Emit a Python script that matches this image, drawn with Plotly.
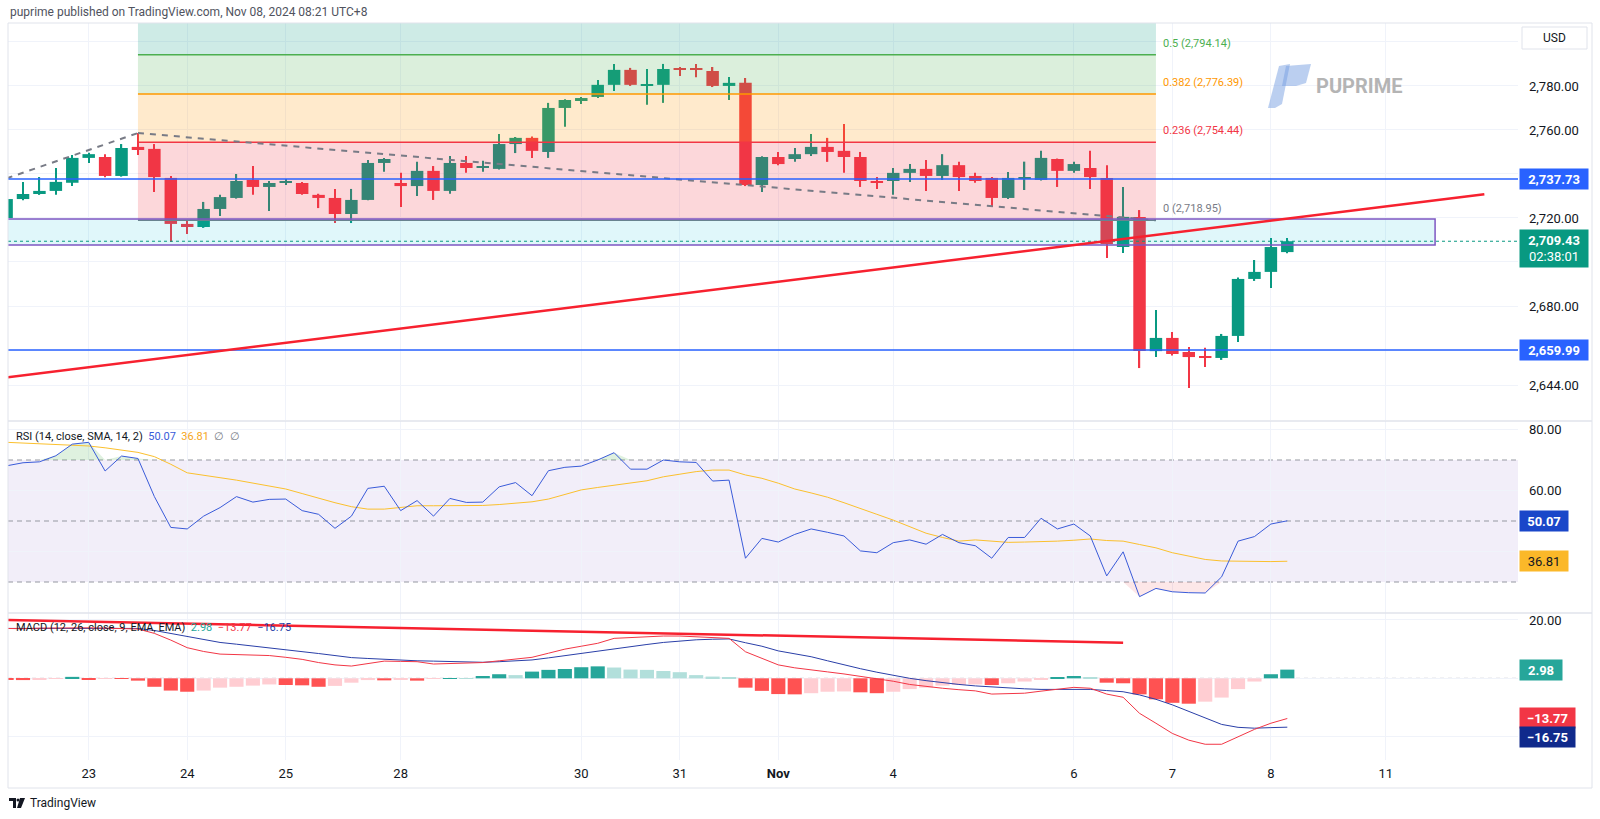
import plotly.graph_objects as go

# ---------------- data ----------------
bar_index = list(range(79))

opens = [2720.0, 2728.6, 2730.9, 2732.3, 2736.0, 2747.3, 2747.7, 2739.1, 2752.3, 2751.4,
         2738.2, 2717.3, 2715.9, 2724.1, 2729.1, 2737.3, 2734.1, 2736.2, 2735.9, 2730.5,
         2729.1, 2721.8, 2728.2, 2745.0, 2735.9, 2734.5, 2741.4, 2732.3, 2745.0, 2742.9,
         2742.3, 2753.6, 2756.4, 2750.0, 2770.0, 2773.6, 2775.0, 2780.5, 2787.3, 2780.4,
         2780.5, 2787.7, 2787.8, 2786.8, 2780.0, 2781.4, 2735.0, 2747.7, 2746.8, 2749.0,
         2752.3, 2750.5, 2747.7, 2736.8, 2736.8, 2740.5, 2742.3, 2739.1, 2744.0, 2739.1,
         2738.2, 2729.1, 2738.1, 2737.3, 2746.8, 2741.4, 2742.7, 2738.2, 2706.8, 2720.5,
         2659.5, 2665.5, 2659.1, 2657.1, 2656.4, 2666.4, 2692.3, 2695.5, 2704.5]
highs = [2729.0, 2736.4, 2738.6, 2742.7, 2748.6, 2749.6, 2749.0, 2753.6, 2758.6, 2753.6,
         2739.1, 2718.6, 2727.3, 2730.5, 2740.0, 2743.6, 2736.8, 2737.7, 2736.4, 2731.0,
         2733.2, 2733.2, 2746.4, 2747.3, 2740.5, 2745.5, 2743.6, 2748.2, 2748.2, 2746.0,
         2758.2, 2756.8, 2757.0, 2772.3, 2774.0, 2775.0, 2782.7, 2790.0, 2788.2, 2787.7,
         2790.0, 2788.6, 2790.0, 2788.6, 2784.1, 2783.6, 2748.0, 2750.0, 2751.8, 2758.2,
         2756.4, 2762.7, 2750.0, 2738.6, 2742.7, 2744.5, 2746.4, 2749.0, 2745.5, 2740.5,
         2738.6, 2740.9, 2745.6, 2750.5, 2747.0, 2745.5, 2750.5, 2744.0, 2734.1, 2723.6,
         2678.2, 2668.2, 2661.4, 2661.0, 2667.3, 2693.0, 2700.9, 2710.9, 2710.9]
lows = [2719.0, 2728.0, 2730.5, 2730.5, 2734.5, 2745.0, 2738.5, 2738.8, 2748.6, 2731.8,
        2709.1, 2712.7, 2715.5, 2720.9, 2728.8, 2730.5, 2723.2, 2735.0, 2730.5, 2724.5,
        2717.7, 2717.7, 2728.0, 2741.0, 2725.0, 2730.0, 2728.2, 2731.0, 2740.5, 2741.0,
        2742.0, 2749.5, 2747.3, 2747.3, 2761.4, 2771.8, 2774.5, 2777.7, 2780.0, 2771.4,
        2772.3, 2784.5, 2784.0, 2779.5, 2773.6, 2734.5, 2731.8, 2744.0, 2745.5, 2748.2,
        2745.5, 2740.5, 2734.1, 2733.2, 2730.5, 2736.4, 2732.3, 2737.3, 2732.3, 2736.0,
        2725.0, 2728.6, 2732.7, 2737.0, 2734.1, 2740.5, 2733.2, 2701.8, 2704.1, 2651.8,
        2656.8, 2657.5, 2642.7, 2652.3, 2655.5, 2663.6, 2691.4, 2688.2, 2704.0]
closes = [2728.6, 2730.9, 2732.3, 2736.4, 2747.3, 2749.0, 2739.1, 2751.8, 2750.9, 2738.6,
          2717.3, 2715.9, 2724.1, 2729.5, 2736.8, 2734.1, 2735.9, 2736.6, 2730.9, 2729.1,
          2721.8, 2728.2, 2745.0, 2746.8, 2734.5, 2741.4, 2732.3, 2745.0, 2742.7, 2743.3,
          2753.6, 2756.4, 2750.5, 2770.0, 2773.6, 2774.5, 2780.5, 2787.3, 2780.5, 2780.7,
          2787.7, 2787.3, 2787.4, 2780.0, 2781.4, 2735.0, 2747.7, 2744.5, 2749.0, 2752.3,
          2750.0, 2747.7, 2736.8, 2735.9, 2740.5, 2742.3, 2739.1, 2744.0, 2738.6, 2736.8,
          2729.1, 2738.2, 2738.4, 2747.3, 2741.4, 2744.5, 2738.6, 2708.2, 2720.5, 2659.5,
          2665.5, 2658.2, 2656.8, 2656.8, 2666.4, 2692.3, 2695.5, 2706.8, 2709.43]

rsi = [68.1, 69.1, 69.4, 71.4, 75.2, 75.8, 66.4, 71.3, 70.5, 58.0,
       47.9, 47.4, 51.6, 54.4, 58.0, 56.2, 57.1, 57.2, 53.4, 52.2,
       47.6, 51.6, 60.7, 61.4, 53.4, 56.7, 51.6, 57.4, 56.1, 56.2,
       61.2, 62.6, 58.3, 66.5, 67.6, 68.0, 70.0, 72.4, 67.0, 67.0,
       70.0, 69.4, 69.2, 63.1, 63.4, 37.8, 44.3, 43.1, 45.6, 47.4,
       46.3, 45.1, 40.2, 39.6, 42.9, 43.8, 42.4, 45.6, 42.9, 41.9,
       37.8, 44.6, 44.6, 50.9, 47.4, 49.0, 45.1, 32.0, 39.9, 25.2,
       27.9, 26.8, 26.5, 26.4, 31.7, 43.4, 44.9, 49.0, 50.07]
rsi_sma = [75.8, 75.6, 75.4, 75.1, 74.9, 74.6, 74.0, 73.3, 72.5, 71.1,
           68.6, 65.8, 64.9, 64.2, 63.4, 62.4, 61.5, 60.5, 59.0, 57.4,
           56.0, 54.7, 53.9, 53.9, 54.4, 55.0, 55.0, 55.0, 55.1, 55.1,
           55.4, 55.8, 56.3, 57.2, 58.8, 60.2, 61.0, 61.8, 62.5, 63.2,
           64.5, 65.4, 66.2, 66.7, 66.7, 65.1, 64.0, 62.4, 60.5, 59.2,
           57.8, 56.0, 54.2, 52.2, 50.3, 48.2, 46.0, 44.6, 43.4, 43.8,
           43.4, 43.0, 43.1, 43.2, 43.4, 43.7, 44.1, 43.6, 43.4, 42.3,
           41.2, 39.6, 38.5, 37.4, 36.9, 36.8, 36.8, 36.7, 36.81]

macd_line = [17.1, 17.0, 17.2, 17.3, 17.4, 17.3, 17.2, 17.0, 16.9, 15.4,
             13.1, 10.5, 9.2, 8.3, 8.1, 8.0, 7.8, 7.2, 6.5, 5.4,
             4.6, 4.2, 5.0, 5.9, 5.8, 5.7, 4.9, 5.0, 5.2, 5.4,
             6.0, 6.6, 7.2, 8.6, 10.0, 11.0, 12.0, 13.7, 14.0, 14.3,
             14.5, 14.5, 14.3, 14.0, 13.7, 9.1, 6.8, 4.6, 3.6, 2.8,
             2.2, 1.5, 0.7, 0.0, -1.0, -2.1, -2.8, -3.4, -3.9, -4.3,
             -5.4, -5.3, -5.1, -4.4, -3.8, -3.1, -3.4, -5.4, -6.5, -12.0,
             -15.4, -18.9, -21.2, -22.6, -22.6, -20.0, -17.5, -15.4, -13.77]
signal_line = [17.1, 17.1, 17.1, 17.1, 17.1, 17.1, 17.1, 17.1, 17.1, 16.4,
               15.4, 14.2, 13.2, 12.3, 11.7, 11.1, 10.5, 9.9, 9.2, 8.5,
               7.8, 7.1, 6.8, 6.5, 6.2, 6.0, 5.9, 5.7, 5.6, 5.5,
               5.7, 6.0, 6.3, 7.0, 7.8, 8.6, 9.4, 10.2, 10.9, 11.6,
               12.3, 12.8, 13.2, 13.4, 13.5, 12.2, 11.0, 9.4, 8.3, 7.4,
               6.0, 4.6, 3.3, 2.1, 1.0, 0.0, -0.8, -1.5, -2.1, -2.6,
               -3.0, -3.4, -3.6, -3.8, -3.8, -3.7, -3.8, -4.2, -4.6, -5.7,
               -7.2, -9.1, -11.4, -13.7, -15.8, -16.8, -17.1, -16.9, -16.75]
histogram = [-0.3, -0.6, -0.5, -0.2, 0.5, -0.3, -0.1, -0.2, -0.8, -2.9,
             -4.2, -4.6, -4.2, -3.2, -2.9, -2.5, -2.1, -2.3, -2.4, -2.9,
             -2.6, -1.5, -0.6, -0.7, -0.3, -0.8, -0.2, 0.1, 0.05, 0.8,
             1.4, 1.1, 2.3, 2.9, 3.2, 3.8, 4.1, 3.7, 3.0, 2.9,
             2.5, 2.1, 1.1, 0.6, 0.3, -3.2, -4.3, -5.4, -5.5, -5.1,
             -4.6, -4.5, -4.8, -5.1, -4.6, -3.7, -3.2, -2.5, -2.3, -2.1,
             -2.3, -1.7, -1.1, -0.3, 0.3, 0.8, 0.3, -1.5, -1.7, -5.5,
             -7.2, -8.4, -8.7, -8.0, -6.6, -3.7, -1.1, 1.4, 2.98]

tick_pos = [5, 11, 17, 24, 35, 41, 47, 54, 65, 71, 77, 84]
tick_text = ["23", "24", "25", "28", "30", "31", "<b>Nov</b>", "4", "6", "7", "8", "11"]
price_ticks = [2644, 2660, 2680, 2700, 2720, 2740, 2760, 2780, 2800]
price_ticks_hidden = [2660, 2700, 2740, 2800]   # covered by price tags in the reference
rsi_ticks = [40, 60, 80]
rsi_ticks_hidden = [40]
macd_ticks = [-20, 0, 20]
macd_ticks_hidden = [-20, 0]

fib_ratios = ["0", "0.236", "0.382", "0.5", "0.618"]
fib_prices = [2718.95, 2754.44, 2776.39, 2794.14, 2811.88]
fib_colors = ["#787b86", "#f23645", "#ff9800", "#4caf50", "#089981"]
fib_start, fib_end = 8, 70
support_levels = [2737.73, 2659.99]
zone_low, zone_high, zone_end = 2707.7, 2719.5, 87
trend_x, trend_y = [0, 90], [2647.6, 2730.8]
dash_x, dash_y = [0, 8, 70], [2738.0, 2758.6, 2718.95]
macd_trend_x, macd_trend_y = [0, 68], [20.0, 12.2]
last_price = 2709.43
countdown = "02:38:01"

# ---------------- geometry helpers (page pixels -> paper) ----------------
L, R, T, B = 8, 1518, 23, 760
def px(x):
    return (x - L) / (R - L)
def py(y):
    return (B - y) / (B - T)

UP, DN = "#089981", "#f23645"
FONT = "Roboto, Liberation Sans, sans-serif"
TXT = "#131722"

def rgba(h, a):
    h = h.lstrip("#")
    return "rgba(%d,%d,%d,%s)" % (int(h[0:2], 16), int(h[2:4], 16), int(h[4:6], 16), a)

def fmt_tick(v, hidden, comma=False):
    if v in hidden:
        return ""
    s = f"{v:,.2f}" if comma else "%.2f" % v
    return s.replace("-", "\u2212")

fig = go.Figure()

# ---------------- price pane ----------------
ccol = [UP if c >= o else DN for o, c in zip(opens, closes)]
fig.add_trace(go.Bar(x=bar_index, y=[h - l for h, l in zip(highs, lows)], base=lows,
                     width=0.08, marker=dict(color=ccol, line=dict(width=0)),
                     xaxis="x", yaxis="y", hoverinfo="skip"))
fig.add_trace(go.Bar(x=bar_index, y=[max(abs(c - o), 0.45) for o, c in zip(opens, closes)],
                     base=[min(o, c) for o, c in zip(opens, closes)],
                     width=0.76, marker=dict(color=ccol, line=dict(width=0)),
                     xaxis="x", yaxis="y", hoverinfo="skip"))

# ---------------- RSI pane ----------------
fig.add_trace(go.Scatter(x=bar_index, y=[70] * len(rsi), mode="lines", line=dict(width=0),
                         xaxis="x2", yaxis="y2", hoverinfo="skip"))
fig.add_trace(go.Scatter(x=bar_index, y=[max(v, 70) for v in rsi], mode="lines", line=dict(width=0),
                         fill="tonexty", fillcolor="rgba(76,175,80,0.18)",
                         xaxis="x2", yaxis="y2", hoverinfo="skip"))
fig.add_trace(go.Scatter(x=bar_index, y=[30] * len(rsi), mode="lines", line=dict(width=0),
                         xaxis="x2", yaxis="y2", hoverinfo="skip"))
fig.add_trace(go.Scatter(x=bar_index, y=[min(v, 30) for v in rsi], mode="lines", line=dict(width=0),
                         fill="tonexty", fillcolor="rgba(242,54,69,0.12)",
                         xaxis="x2", yaxis="y2", hoverinfo="skip"))
fig.add_trace(go.Scatter(x=bar_index, y=rsi_sma, mode="lines", line=dict(color="#fbc02d", width=1),
                         xaxis="x2", yaxis="y2", hoverinfo="skip"))
fig.add_trace(go.Scatter(x=bar_index, y=rsi, mode="lines", line=dict(color="#3a5bd9", width=1),
                         xaxis="x2", yaxis="y2", hoverinfo="skip"))

# ---------------- MACD pane ----------------
hcol = []
for i, h in enumerate(histogram):
    prev = histogram[i - 1] if i > 0 else h
    if h >= 0:
        hcol.append("#26a69a" if h >= prev else "#b2dfdb")
    else:
        hcol.append("#ffcdd2" if h > prev else "#ff5252")
fig.add_trace(go.Bar(x=bar_index, y=histogram, width=0.86, marker=dict(color=hcol, line=dict(width=0)),
                     xaxis="x3", yaxis="y3", hoverinfo="skip"))
fig.add_trace(go.Scatter(x=bar_index, y=signal_line, mode="lines", line=dict(color="#2a3fa8", width=1),
                         xaxis="x3", yaxis="y3", hoverinfo="skip"))
fig.add_trace(go.Scatter(x=bar_index, y=macd_line, mode="lines", line=dict(color="#f23645", width=1),
                         xaxis="x3", yaxis="y3", hoverinfo="skip"))

# ---------------- shapes ----------------
shapes = []
for k in range(4):
    shapes.append(dict(type="rect", xref="x", yref="y", x0=fib_start, x1=fib_end,
                       y0=fib_prices[k], y1=fib_prices[k + 1], fillcolor=rgba(fib_colors[k + 1], 0.2),
                       line=dict(width=0), layer="above"))
for k in range(5):
    shapes.append(dict(type="line", xref="x", yref="y", x0=fib_start, x1=fib_end,
                       y0=fib_prices[k], y1=fib_prices[k], line=dict(color=fib_colors[k], width=1.5),
                       layer="above"))
for k in range(len(dash_x) - 1):
    shapes.append(dict(type="line", xref="x", yref="y", x0=dash_x[k], x1=dash_x[k + 1],
                       y0=dash_y[k], y1=dash_y[k + 1],
                       line=dict(color="#787b86", width=2, dash="6px,6px"), layer="above"))
shapes.append(dict(type="rect", xref="x", yref="y", x0=-3, x1=zone_end, y0=zone_low, y1=zone_high,
                   fillcolor="rgba(0,188,212,0.12)", line=dict(color="#7e57c2", width=1.5), layer="above"))
for lv in support_levels:
    shapes.append(dict(type="line", xref="x domain", yref="y", x0=0, x1=1, y0=lv, y1=lv,
                       line=dict(color="#2962ff", width=1.5), layer="above"))
shapes.append(dict(type="line", xref="x domain", yref="y", x0=0, x1=1, y0=last_price, y1=last_price,
                   line=dict(color=UP, width=1, dash="dot"), layer="above"))
shapes.append(dict(type="line", xref="x", yref="y", x0=trend_x[0], x1=trend_x[1],
                   y0=trend_y[0], y1=trend_y[1], line=dict(color="#f7212f", width=2.5), layer="above"))

shapes.append(dict(type="rect", xref="x2 domain", yref="y2", x0=0, x1=1, y0=30, y1=70,
                   fillcolor="rgba(126,87,194,0.1)", line=dict(width=0), layer="below"))
for lv in [70, 50, 30]:
    shapes.append(dict(type="line", xref="x2 domain", yref="y2", x0=0, x1=1, y0=lv, y1=lv,
                       line=dict(color="#9598a1", width=1, dash="5px,4px"), layer="below"))
shapes.append(dict(type="line", xref="x3 domain", yref="y3", x0=0, x1=1, y0=0, y1=0,
                   line=dict(color="#b2b5be", width=1, dash="4px,4px"), layer="below"))
shapes.append(dict(type="line", xref="x3", yref="y3", x0=macd_trend_x[0], x1=macd_trend_x[1],
                   y0=macd_trend_y[0], y1=macd_trend_y[1], line=dict(color="#f7212f", width=2.5),
                   layer="above"))

shapes.append(dict(type="rect", xref="paper", yref="paper", x0=px(8), x1=px(1592), y0=py(788), y1=py(23),
                   line=dict(color="#e0e3eb", width=1), fillcolor="rgba(0,0,0,0)", layer="above"))
for yy in [421, 613]:
    shapes.append(dict(type="line", xref="paper", yref="paper", x0=px(8), x1=px(1592), y0=py(yy), y1=py(yy),
                       line=dict(color="#e0e3eb", width=1.5), layer="above"))
shapes.append(dict(type="rect", xref="paper", yref="paper", x0=px(1522), x1=px(1587), y0=py(49), y1=py(27),
                   line=dict(color="#e0e3eb", width=1), fillcolor="white", layer="above"))

def path(points):
    return "M " + " L ".join("%f,%f" % (px(a), py(b)) for a, b in points) + " Z"

# PUPRIME watermark icon
shapes.append(dict(type="path", xref="paper", yref="paper",
                   path=path([(1268, 108), (1279, 66), (1290, 64), (1282, 104), (1275, 108)]),
                   fillcolor="rgba(120,160,225,0.5)", line=dict(width=0), layer="above"))
shapes.append(dict(type="path", xref="paper", yref="paper",
                   path=path([(1286, 66), (1311, 64), (1306, 83), (1296, 86), (1286, 86), (1282, 86)]),
                   fillcolor="rgba(120,160,225,0.5)", line=dict(width=0), layer="above"))
# TradingView footer logo
shapes.append(dict(type="rect", xref="paper", yref="paper", x0=px(9), x1=px(16), y0=py(801), y1=py(798),
                   fillcolor=TXT, line=dict(width=0)))
shapes.append(dict(type="rect", xref="paper", yref="paper", x0=px(13), x1=px(16), y0=py(808), y1=py(798),
                   fillcolor=TXT, line=dict(width=0)))
shapes.append(dict(type="circle", xref="paper", yref="paper", x0=px(16.5), x1=px(19.5), y0=py(801.5), y1=py(798.5),
                   fillcolor=TXT, line=dict(width=0)))
shapes.append(dict(type="path", xref="paper", yref="paper",
                   path=path([(20, 798), (25, 798), (21, 808), (17, 808)]), fillcolor=TXT, line=dict(width=0)))

# ---------------- annotations ----------------
ann = []
def box(yref, val, text, bg, fg, width, yshift=0, height=14):
    ann.append(dict(xref="paper", yref=yref, x=px(1519), y=val, xanchor="left", yanchor="middle",
                    text=text, showarrow=False, bgcolor=bg, borderpad=3, width=width, height=height,
                    align="center", yshift=yshift, font=dict(family=FONT, size=13, color=fg)))

box("y", support_levels[0], "<b>%s</b>" % f"{support_levels[0]:,.2f}", "#2962ff", "white", 62)
box("y", support_levels[1], "<b>%s</b>" % f"{support_levels[1]:,.2f}", "#2962ff", "white", 62)
box("y", last_price, "<b>%s</b><br>%s" % (f"{last_price:,.2f}", countdown), UP, "white", 62, yshift=-7, height=31)
box("y2", rsi[-1], "<b>%.2f</b>" % rsi[-1], "#1a47c9", "white", 42)
box("y2", rsi_sma[-1], "%.2f" % rsi_sma[-1], "#fbb829", TXT, 42)
box("y3", histogram[-1], "<b>%.2f</b>" % histogram[-1], "#26a69a", "white", 36)
box("y3", macd_line[-1], "<b>%s</b>" % ("%.2f" % macd_line[-1]).replace("-", "\u2212"), "#f23645", "white", 49)
box("y3", signal_line[-1], "<b>%s</b>" % ("%.2f" % signal_line[-1]).replace("-", "\u2212"), "#102a8c", "white", 49,
    yshift=-10)

for k in range(4):
    ann.append(dict(xref="x", yref="y", x=fib_end, y=fib_prices[k], xanchor="left", yanchor="bottom",
                    xshift=5, yshift=3, showarrow=False,
                    text="%s (%s)" % (fib_ratios[k], f"{fib_prices[k]:,.2f}"),
                    font=dict(family=FONT, size=11, color=fib_colors[k])))

ann.append(dict(xref="paper", yref="paper", x=px(1554), y=py(38), xanchor="center", yanchor="middle",
                text="USD", showarrow=False, font=dict(family=FONT, size=12, color=TXT)))
ann.append(dict(xref="paper", yref="paper", x=px(1314), y=py(86), xanchor="left", yanchor="middle",
                text="<b>PUPRIME</b>", showarrow=False, font=dict(family=FONT, size=20, color="#b4b4b4")))
ann.append(dict(xref="paper", yref="paper", x=px(8), y=py(12), xanchor="left", yanchor="middle",
                text="puprime published on TradingView.com, Nov 08, 2024 08:21 UTC+8", showarrow=False,
                font=dict(family=FONT, size=12, color="#50535e")))
ann.append(dict(xref="paper", yref="paper", x=px(28), y=py(803), xanchor="left", yanchor="middle",
                text="TradingView", showarrow=False, font=dict(family=FONT, size=12, color=TXT)))
nb = "\u00a0"
ann.append(dict(xref="paper", yref="paper", x=px(14), y=py(436), xanchor="left", yanchor="middle",
                showarrow=False, font=dict(family=FONT, size=11, color=TXT),
                text="RSI (14, close, SMA, 14, 2)" + nb * 2 +
                     '<span style="color:#3a5bd9">%.2f</span>' % rsi[-1] + nb * 2 +
                     '<span style="color:#f5a623">%.2f</span>' % rsi_sma[-1] + nb * 2 +
                     '<span style="color:#787b86">\u2205' + nb * 2 + '\u2205</span>'))
ann.append(dict(xref="paper", yref="paper", x=px(14), y=py(627), xanchor="left", yanchor="middle",
                showarrow=False, font=dict(family=FONT, size=11, color=TXT),
                text="MACD (12, 26, close, 9, EMA, EMA)" + nb * 2 +
                     '<span style="color:#26a69a">%.2f</span>' % histogram[-1] + nb * 2 +
                     '<span style="color:#f23645">%s</span>' % ("%.2f" % macd_line[-1]).replace("-", "\u2212") + nb * 2 +
                     '<span style="color:#2a3fa8">%s</span>' % ("%.2f" % signal_line[-1]).replace("-", "\u2212")))

# ---------------- layout ----------------
xr = [0.085, 92.05]
grid = "#f0f3fa"
common_x = dict(range=xr, tickmode="array", tickvals=tick_pos, ticktext=tick_text, showgrid=True,
                gridcolor=grid, zeroline=False, showline=False, fixedrange=True)
common_y = dict(side="right", showgrid=True, gridcolor=grid, zeroline=False, showline=False,
                tickfont=dict(family=FONT, size=13, color=TXT), ticks="", ticklabelstandoff=10)

fig.update_layout(
    width=1600, height=819,
    margin=dict(l=L, r=1600 - R, t=T, b=819 - B),
    paper_bgcolor="white", plot_bgcolor="white",
    showlegend=False, barmode="overlay", hovermode=False,
    font=dict(family=FONT, color=TXT),
    xaxis=dict(common_x, domain=[0, 1], anchor="y", showticklabels=False),
    xaxis2=dict(common_x, domain=[0, 1], anchor="y2", showticklabels=False),
    xaxis3=dict(common_x, domain=[0, 1], anchor="y3", showticklabels=True,
                tickfont=dict(family=FONT, size=13, color=TXT), ticks="", ticklabelstandoff=4),
    yaxis=dict(common_y, domain=[py(420), 1], anchor="x", range=[2628.2, 2808.6],
               tickmode="array", tickvals=price_ticks,
               ticktext=[fmt_tick(v, price_ticks_hidden, True) for v in price_ticks]),
    yaxis2=dict(common_y, domain=[py(613), py(421)], anchor="x2", range=[19.84, 82.79],
                tickmode="array", tickvals=rsi_ticks,
                ticktext=[fmt_tick(v, rsi_ticks_hidden) for v in rsi_ticks]),
    yaxis3=dict(common_y, domain=[0, py(613)], anchor="x3", range=[-28.0, 22.39],
                tickmode="array", tickvals=macd_ticks,
                ticktext=[fmt_tick(v, macd_ticks_hidden) for v in macd_ticks]),
    shapes=shapes, annotations=ann,
)

fig.write_html("out.html", config={"displayModeBar": False},
               post_script="document.body.style.margin='0';document.body.style.overflow='hidden';")
